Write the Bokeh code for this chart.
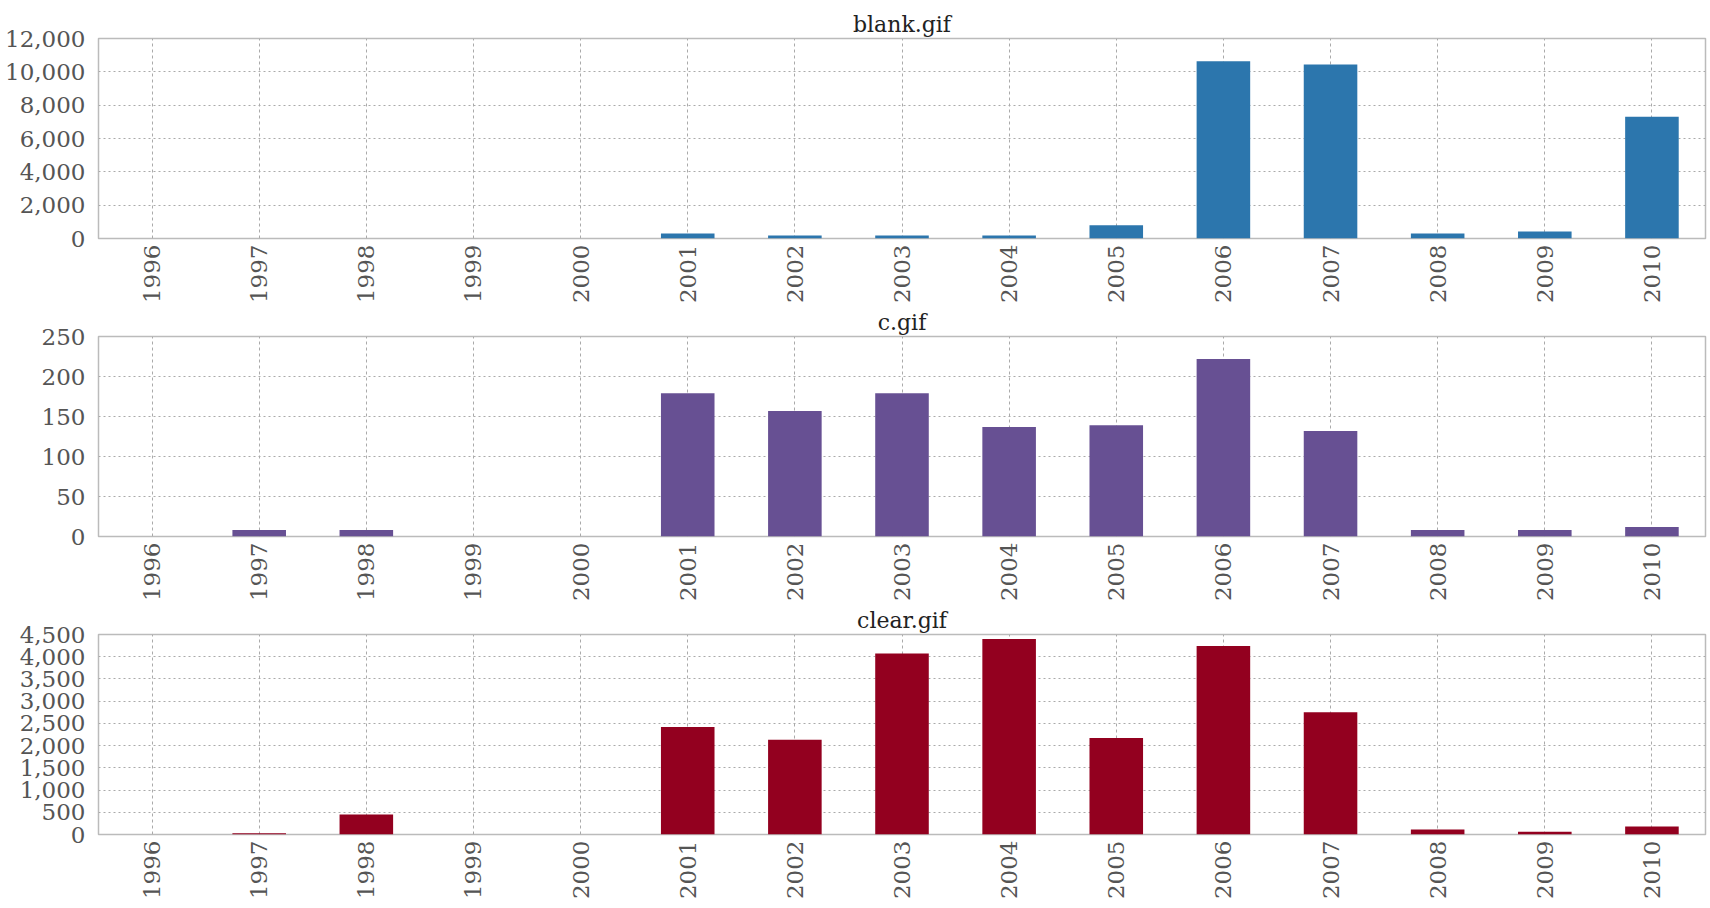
import math
from bokeh.plotting import figure
from bokeh.models import FactorRange, Range1d, NumeralTickFormatter, FixedTicker, ColumnDataSource
from bokeh.layouts import column
from bokeh.embed import file_html
from bokeh.resources import INLINE

years = ["1996", "1997", "1998", "1999", "2000", "2001", "2002", "2003",
         "2004", "2005", "2006", "2007", "2008", "2009", "2010"]

blank_gif = [0, 0, 0, 0, 0, 300, 180, 180, 180, 800, 10640, 10440, 300, 420, 7300]
c_gif = [0, 8, 8, 0, 0, 179, 157, 179, 137, 139, 222, 132, 8, 8, 12]
clear_gif = [0, 30, 450, 0, 0, 2420, 2130, 4070, 4400, 2170, 4240, 2750, 110, 60, 180]

panels = [
    ("blank.gif", blank_gif, "#2c76ad", 12000, 2000, 38),
    ("c.gif", c_gif, "#675093", 250, 50, 0),
    ("clear.gif", clear_gif, "#93001f", 4500, 500, 0),
]

FONT = "DejaVu Serif"
figs = []
for title, vals, color, ymax, step, top in panels:
    src = ColumnDataSource(dict(year=years, v=vals))
    p = figure(x_range=FactorRange(*years), y_range=Range1d(0, ymax),
               frame_width=1607, frame_height=200,
               min_border_left=98, min_border_right=3, min_border_top=top,
               min_border_bottom=0, title=title,
               output_backend="svg", toolbar_location=None)
    p.vbar(x="year", top="v", width=0.5, source=src, fill_color=color,
           line_color=None)
    p.title.align = "center"
    p.title.text_font = FONT
    p.title.text_font_size = "22px"
    p.title.text_font_style = "normal"
    p.title.text_color = "#222222"
    p.title.standoff = 3
    p.outline_line_color = "#bbbbbb"
    p.outline_line_width = 1.5
    p.x_range.range_padding = 0
    for ax in (p.xaxis[0], p.yaxis[0]):
        ax.axis_line_color = None
        ax.major_tick_line_color = None
        ax.minor_tick_line_color = None
        ax.major_label_text_font = FONT
        ax.major_label_text_font_size = "23px"
        ax.major_label_text_color = "#555555"
    p.xaxis.major_label_orientation = math.pi / 2
    p.xaxis.major_label_standoff = 0
    p.yaxis.major_label_standoff = 7
    p.yaxis.ticker = FixedTicker(ticks=list(range(0, ymax + 1, step)))
    p.yaxis.formatter = NumeralTickFormatter(format="0,0")
    p.xgrid.grid_line_color = "#aaaaaa"
    p.xgrid.grid_line_dash = "3 3"
    p.ygrid.grid_line_color = "#aaaaaa"
    p.ygrid.grid_line_dash = "2 3"
    figs.append(p)

layout = column(*figs, spacing=0)
open("out.html", "w").write(file_html(layout, INLINE))
